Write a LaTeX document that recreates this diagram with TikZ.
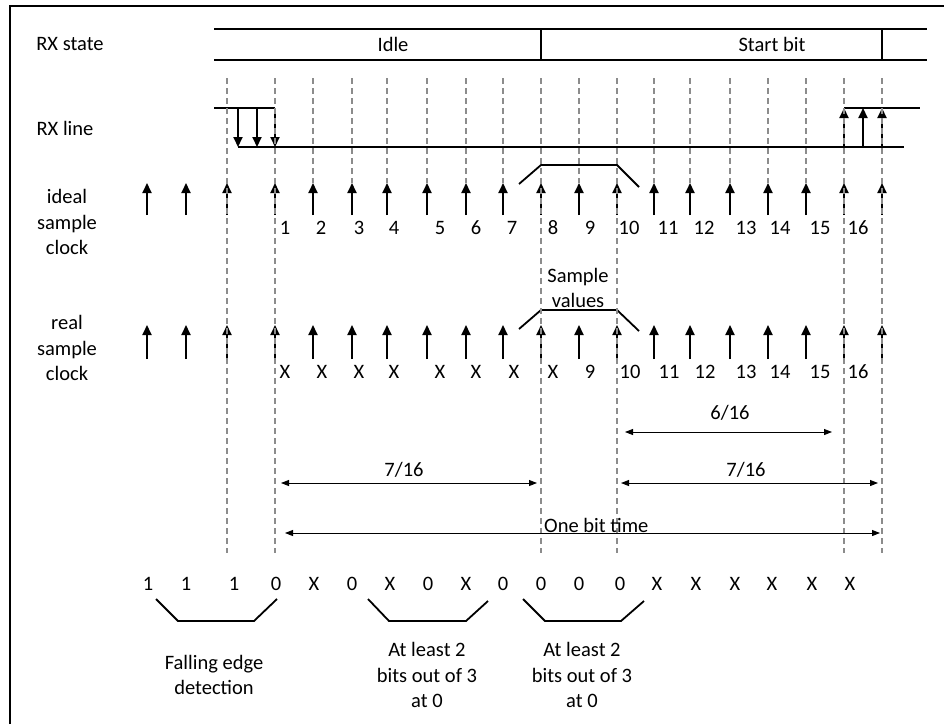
\documentclass[tikz,border=0pt]{standalone}
\usepackage{fontspec}
\setmainfont{Carlito}
\usetikzlibrary{arrows.meta}
\definecolor{guidegray}{RGB}{140,140,140}
\begin{document}
\begin{tikzpicture}[x=1pt,y=-1pt,
  every node/.style={inner sep=0pt, font=\fontsize{20.5}{25.5}\selectfont},
  frame/.style={line width=2.5pt},
  sig/.style={line width=1.8pt},
  clk/.style={line width=2pt,-{Triangle[width=9pt,length=10pt]}},
  guide/.style={draw=guidegray, line width=1.4pt, dash pattern=on 6pt off 4pt},
  dim/.style={line width=0.9pt,{Triangle[width=6pt,length=8pt]}-{Triangle[width=6pt,length=8pt]}},
  brk/.style={line width=1.8pt},
  lbl/.style={align=center}]
\useasboundingbox (0,0) rectangle (944,724);
% frame (top and left edges)
\draw[frame] (10,724) -- (10,6) -- (944,6);
% RX state bus
\draw[sig] (214,29) -- (927,29);
\draw[sig] (214,60) -- (927,60);
\draw[sig] (541,29) -- (541,60);
\draw[sig] (882,29) -- (882,60);
\node (rxs) at (70,44) {RX state};
\node (idle) at (393,44) {Idle};
\node (sb) at (772,44) {Start bit};
% RX line
\node (rxl) at (65,128) {RX line};
\draw[sig] (214,108) -- (275,108);
\draw[sig] (238,147) -- (904,147);
\foreach \x in {238,257,275} \draw[clk] (\x,108) -- (\x,147);
\draw[sig] (844,108) -- (920,108);
\foreach \x in {844,863,882} \draw[clk] (\x,147) -- (\x,108);
% clocks
\node[lbl] (ideal) at (67,222) {ideal\\sample\\clock};
\node[lbl] (real) at (67,348) {real\\sample\\clock};
\foreach \x in {147,186,227,275,313,352,387,427,466,503,541,579,617,654,690,730,768,806,844,882} {
  \draw[clk] (\x,215) -- (\x,183);
  \draw[clk] (\x,359) -- (\x,325);
}
\foreach \t/\x [count=\i] in {1/285,2/321,3/359,4/394,5/440,6/476,7/512,8/553,9/590,10/629,11/668,12/704,13/746,14/780,15/820,16/858}
  \node (il\i) at (\x,228) {\t};
\foreach \t/\x [count=\i] in {X/285,X/322,X/359,X/394,X/440,X/476,X/514,X/553,9/590,10/630,11/669,12/705,13/746,14/780,15/820,16/858}
  \node (rl\i) at (\x,372) {\t};
% sample value brackets
\draw[brk] (519,184) -- (541,165) -- (617,165) -- (639,187);
\draw[brk] (519,329) -- (541,310) -- (617,310) -- (639,331);
\node[lbl] (sv) at (578,288) {Sample\\values};
% guides
\foreach \x in {313,352,387,427,466,503,579,654,690,730,768,806}
  \draw[guide] (\x,78) -- (\x,183);
\foreach \x in {227,275,541,617,844,882}
  \draw[guide] (\x,78) -- (\x,553);
% dimensions
\coordinate (d1a) at (625,432); \coordinate (d1b) at (832,432);
\draw[dim] (d1a) -- (d1b);
\node (d1) at (730,413) {6/16};
\coordinate (d2a) at (281,483); \coordinate (d2b) at (537,483);
\draw[dim] (d2a) -- (d2b);
\node (d2) at (404,470) {7/16};
\coordinate (d3a) at (621,483); \coordinate (d3b) at (878,483);
\draw[dim] (d3a) -- (d3b);
\node (d3) at (746,470) {7/16};
\coordinate (d4a) at (285,533); \coordinate (d4b) at (880,533);
\draw[dim] (d4a) -- (d4b);
\node[anchor=base west] (d4) at (544,532) {One bit time};
% bit row
\foreach \t/\x [count=\i] in {1/148,1/186,1/234,0/276,X/314,0/352,X/390,0/428,X/466,0/503,0/541,0/579,0/620,X/657,X/696,X/735,X/772,X/812,X/850}
  \node (b\i) at (\x,584) {\t};
\draw[brk] (156,599) -- (178,621) -- (254,621) -- (277,599);
\draw[brk] (368,599) -- (389,621) -- (466,621) -- (488,601);
\draw[brk] (523,599) -- (545,621) -- (621,621) -- (644,601);
\node[lbl] (fe) at (214,675) {Falling edge\\detection};
\node[lbl] (m1) at (427,675) {At least 2\\bits out of 3\\at 0};
\node[lbl] (m2) at (582,675) {At least 2\\bits out of 3\\at 0};
\end{tikzpicture}
\end{document}
